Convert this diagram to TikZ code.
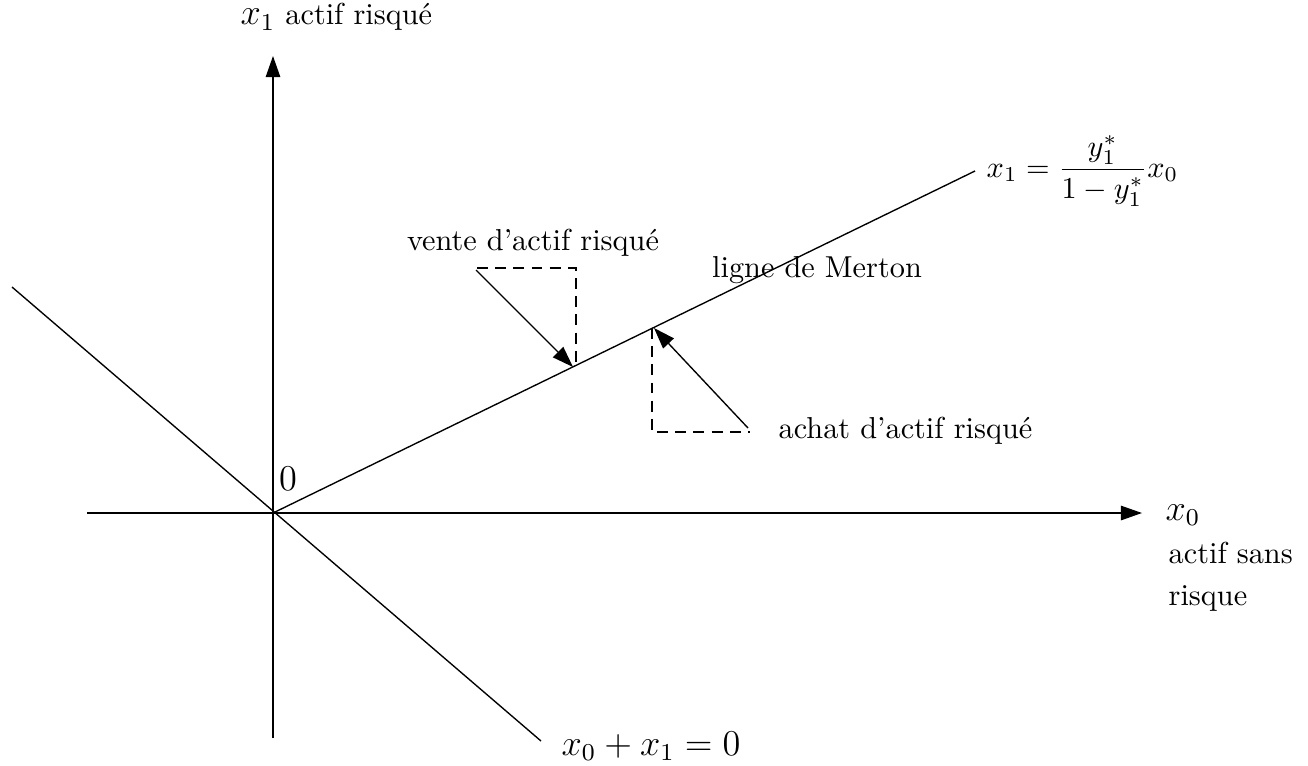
\documentclass[tikz,border=0pt]{standalone}
\usetikzlibrary{arrows.meta}
\begin{document}
\begin{tikzpicture}[x=0.33pt,y=-0.33pt, line width=0.45pt,
  ax/.style={-{Triangle[length=7pt,width=4.8pt]}},
  dsh/.style={dash pattern=on 3.6pt off 2.4pt},
  lbl/.style={inner sep=0pt},
  big/.style={inner sep=0pt,font=\fontsize{12}{14}\selectfont}]
\useasboundingbox (0,0) rectangle (1308,765);
% coordinates
\coordinate (O) at (273,513);
\coordinate (ybot) at (273,738);
\coordinate (ytop) at (273,56);
\coordinate (xleft) at (87,513);
\coordinate (xright) at (1142,513);
\coordinate (dtl) at (12,287);
\coordinate (dbr) at (541,741);
\coordinate (mend) at (975,171);
\coordinate (a1s) at (476,270);
\coordinate (a1e) at (573,367);
\coordinate (r1a) at (477,268);
\coordinate (r1b) at (576,268);
\coordinate (r1c) at (576,363);
\coordinate (a2s) at (748,428);
\coordinate (a2e) at (654,328);
\coordinate (r2a) at (652,328);
\coordinate (r2b) at (652,432);
\coordinate (r2c) at (750,432);
% axes
\draw[ax] (ybot) -- (ytop);
\draw[ax] (xleft) -- (xright);
\draw (dtl) -- (dbr);
\draw (O) -- (mend);
% dashed boxes
\draw[dsh] (r1a) -- (r1b) -- (r1c);
\draw[dsh] (r2a) -- (r2b) -- (r2c);
% arrows
\draw[ax] (a1s) -- (a1e);
\draw[ax] (a2s) -- (a2e);
% labels
\node[lbl,anchor=west] (ylab) at (240,17) {{\fontsize{12}{14}\selectfont$x_1$} actif risqué};
\node[big,anchor=base west] (xlab) at (1165,520) {$x_0$};
\node[lbl,anchor=base west] (xlab2) at (1168,563) {actif sans};
\node[lbl,anchor=base west] (xlab3) at (1168,605) {risque};
\node[lbl,anchor=west] (mlab) at (986,171) {$x_1=\displaystyle\frac{y_1^*}{1-y_1^*}x_0$};
\node[lbl] (merton) at (817,270) {ligne de Merton};
\node[lbl] (vente) at (533,243) {vente d'actif risqué};
\node[lbl,anchor=west] (achat) at (778,431) {achat d'actif risqué};
\node[big] (zero) at (288,479) {$0$};
\node[big,anchor=west] (dlab) at (561,746) {$x_0+x_1=0$};
\end{tikzpicture}
\end{document}
